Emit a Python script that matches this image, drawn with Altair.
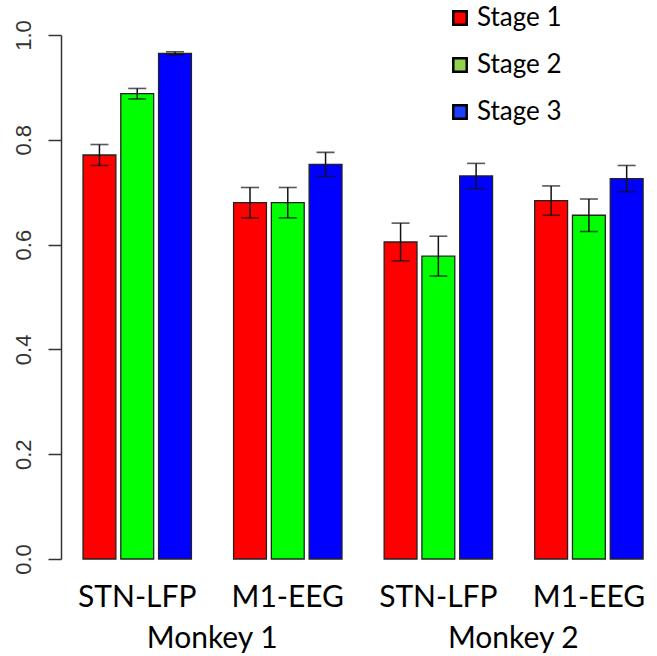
import altair as alt
import pandas as pd

# Recording sites (unique keys: "<monkey>|<site>") and the three disease stages
groups = ["M1|STN-LFP", "M1|M1-EEG", "M2|STN-LFP", "M2|M1-EEG"]
stages = ["Stage 1", "Stage 2", "Stage 3"]

# Mean classification accuracy per site, one list per stage
stage1_mean = [0.771, 0.680, 0.605, 0.684]
stage2_mean = [0.888, 0.680, 0.578, 0.656]
stage3_mean = [0.965, 0.753, 0.731, 0.726]

# Standard errors, same order
stage1_err = [0.020, 0.029, 0.036, 0.028]
stage2_err = [0.010, 0.029, 0.038, 0.031]
stage3_err = [0.003, 0.023, 0.024, 0.025]

monkeys = ["Monkey 1", "Monkey 2"]
monkey_first_site = ["M1|STN-LFP", "M2|STN-LFP"]

bar_colors = ["#FF0000", "#00FF00", "#0000FF"]
legend_colors = ["#FF0000", "#92D050", "#1F3FFF"]

rows = []
for stage, means, errs in zip(stages,
                              [stage1_mean, stage2_mean, stage3_mean],
                              [stage1_err, stage2_err, stage3_err]):
    for g, m, e in zip(groups, means, errs):
        rows.append({"group": g, "stage": stage, "mean": m, "err": e})
df = pd.DataFrame(rows)
df["lo"] = df["mean"] - df["err"]
df["hi"] = df["mean"] + df["err"]

W, H = 592, 524
FONT = "Lato"

x_enc = alt.X(
    "group:N",
    sort=groups,
    scale=alt.Scale(domain=groups, paddingInner=0.28, paddingOuter=0.106, align=0.69),
    axis=alt.Axis(
        title=None, domain=False, ticks=False, labelAngle=0,
        labelExpr="split(datum.label, '|')[1]",
        labelFont=FONT, labelFontSize=30, labelColor="#000",
        labelPadding=23, labelBaseline="top",
    ),
)
xoff = alt.XOffset(
    "stage:N", sort=stages,
    scale=alt.Scale(domain=stages, paddingInner=0.13, paddingOuter=0),
)
y_scale = alt.Scale(domain=[0, 1], nice=False, zero=True)

base = alt.Chart(df)

# Bars take their colours through the fill channel (domain from the data,
# sorted ascending); the legend below uses its own color scale
bars = base.mark_bar(stroke="#222", strokeWidth=1.3).encode(
    x=x_enc,
    xOffset=xoff,
    y=alt.Y(
        "mean:Q", scale=y_scale,
        axis=alt.Axis(
            title=None, values=[0, 0.2, 0.4, 0.6, 0.8, 1.0], format=".1f",
            grid=False, domainColor="#333", domainWidth=1.5,
            tickColor="#333", tickWidth=1.5, tickSize=13,
            labelAngle=270, labelAlign="center", labelBaseline="bottom",
            labelFont="Liberation Sans", labelFontSize=22, labelColor="#333",
            labelPadding=13,
        ),
    ),
    fill=alt.Fill("stage:N", sort="ascending", scale=alt.Scale(range=bar_colors), legend=None),
)

whisker = base.mark_rule(color="#111", strokeWidth=1.5).encode(
    x=alt.X("group:N", sort=groups), xOffset=xoff,
    y=alt.Y("lo:Q", scale=y_scale), y2="hi:Q",
)
cap_hi = base.mark_tick(orient="horizontal", size=18, thickness=1.6, color="#111").encode(
    x=alt.X("group:N", sort=groups), xOffset=xoff, y=alt.Y("hi:Q", scale=y_scale),
)
cap_lo = base.mark_tick(orient="horizontal", size=18, thickness=1.6, color="#111").encode(
    x=alt.X("group:N", sort=groups), xOffset=xoff, y=alt.Y("lo:Q", scale=y_scale),
)

# Monkey labels, centred between each monkey's two sites
monkey_df = pd.DataFrame({"group": monkey_first_site, "monkey": monkeys})
monkey_text = alt.Chart(monkey_df).mark_text(
    font=FONT, fontSize=30, color="#000", baseline="middle", align="center", dx=75,
).encode(
    x=alt.X("group:N", sort=groups),
    y=alt.value(H + 80),
    text="monkey:N",
)

# Legend carried by zero-size squares with their own colour scale
legend_df = pd.DataFrame({"level": stages})
legend_layer = alt.Chart(legend_df).mark_square(size=0).encode(
    color=alt.Color(
        "level:N",
        scale=alt.Scale(domain=stages, range=legend_colors),
        legend=alt.Legend(
            title=None, orient="none", legendX=386, legendY=-30,
            symbolType="square", symbolSize=180, symbolStrokeColor="#000",
            symbolStrokeWidth=2.5, symbolOpacity=1,
            labelFont=FONT, labelFontSize=26, labelColor="#000",
            labelOffset=4, rowPadding=21,
        ),
    ),
)

chart = alt.layer(bars, whisker, cap_hi, cap_lo, monkey_text, legend_layer).properties(
    width=W, height=H,
    autosize=alt.AutoSizeParams(type="none"),
    padding={"left": 61, "top": 35, "right": 4, "bottom": 97},
    background="white",
).configure_view(stroke=None)

chart.save("out.html", embed_options={"renderer": "svg", "actions": False})
